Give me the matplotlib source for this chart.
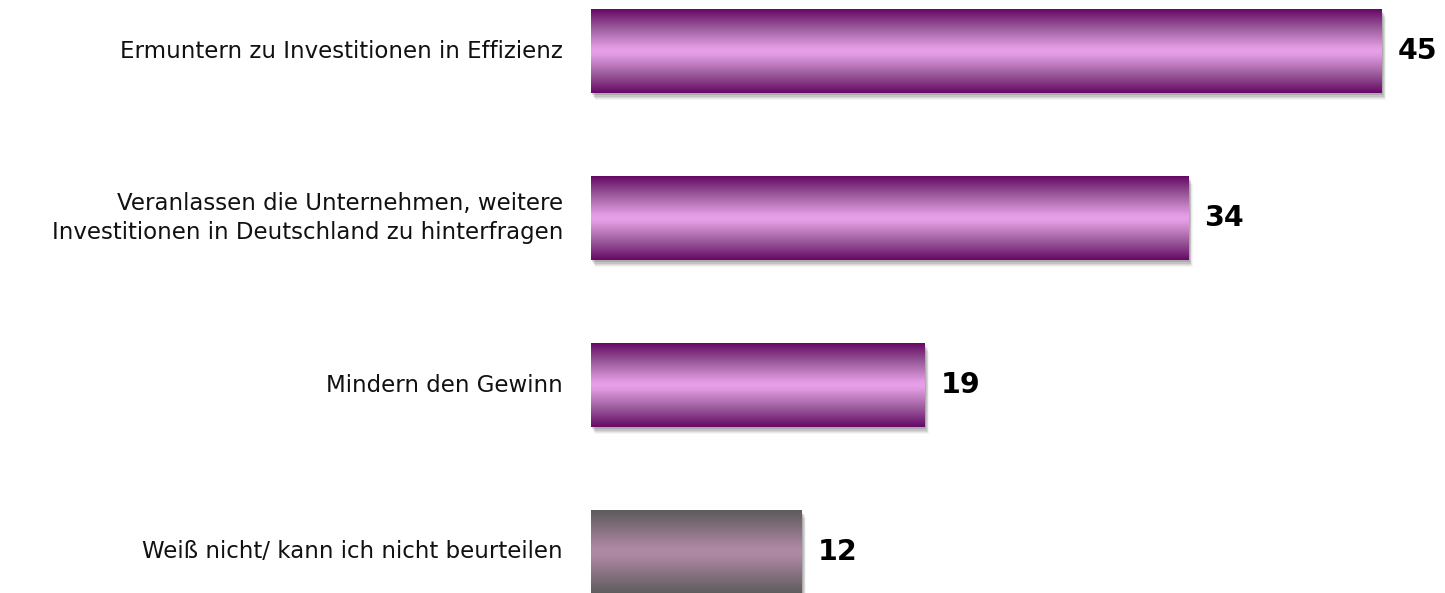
import numpy as np
import matplotlib
matplotlib.use("Agg")
import matplotlib.pyplot as plt
from matplotlib.colors import LinearSegmentedColormap
from matplotlib.patches import Rectangle

categories = [
    "Ermuntern zu Investitionen in Effizienz",
    "Veranlassen die Unternehmen, weitere\nInvestitionen in Deutschland zu hinterfragen",
    "Mindern den Gewinn",
    "Weiß nicht/ kann ich nicht beurteilen",
]
values = [45, 34, 19, 12]
highlight = [True, True, True, False]

W, H, DPI = 1445, 593, 100
fig = plt.figure(figsize=(W / DPI, H / DPI), dpi=DPI)
left = 591 / W
ax = fig.add_axes([left, 0, 1 - left, 1])
ax.set_xlim(0, 48.6)
ax.set_ylim(3.246, -0.305)
ax.axis("off")

purple = LinearSegmentedColormap.from_list(
    "p", [(0, "#660866"), (0.22, "#9A5A9A"), (0.45, "#E09AE0"), (0.5, "#E8A0E8"),
          (0.55, "#E09AE0"), (0.78, "#9A5A9A"), (1, "#660866")])
gray = LinearSegmentedColormap.from_list(
    "g", [(0, "#5C5C5C"), (0.22, "#85707F"), (0.45, "#AC88A2"), (0.5, "#B08AA4"),
          (0.55, "#AC88A2"), (0.78, "#85707F"), (1, "#5C5C5C")])

bh = 0.5
grad = np.linspace(0, 1, 256).reshape(-1, 1)
px_x = 48.6 / (W - 591)
px_y = 3.551 / H
for i, (v, hl) in enumerate(zip(values, highlight)):
    # soft shadow
    for k, a in [(6, 0.04), (5, 0.05), (4, 0.07), (3, 0.09), (2, 0.12)]:
        ax.add_patch(Rectangle((k * px_x * 0.7, i - bh / 2 + k * px_y * 1.3), v, bh,
                               facecolor="black", alpha=a, lw=0, zorder=1))
    cmap = purple if hl else gray
    ax.imshow(grad, cmap=cmap, aspect="auto",
              extent=(0, v, i + bh / 2, i - bh / 2), zorder=2, interpolation="bilinear")
    ax.text(v + 16 * px_x, i, str(v), ha="left", va="center",
            fontsize=20.5, fontweight="bold", color="black", zorder=3)

ax.set_xlim(0, 48.6)
ax.set_ylim(3.246, -0.305)

for i, c in enumerate(categories):
    fig.text(563 / W, 1 - (51 + i * 167) / H, c, ha="right", va="center",
             fontsize=16.5, color="#111111", linespacing=1.3)

fig.savefig("out.png", dpi=DPI)
